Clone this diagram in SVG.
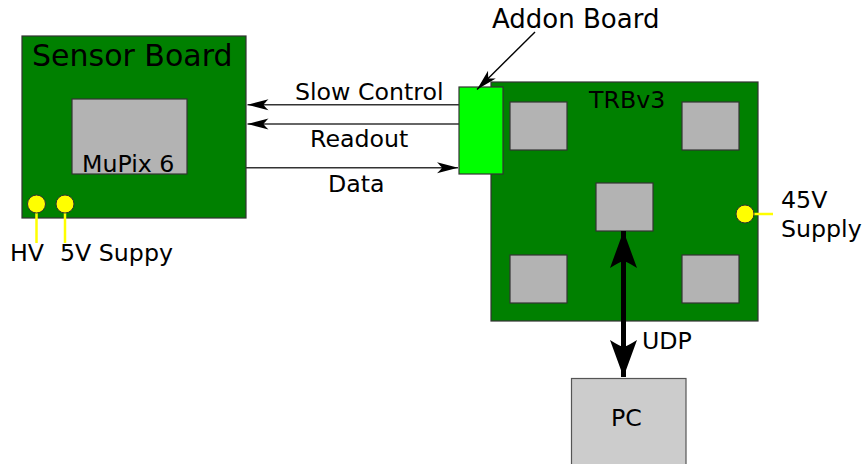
<svg xmlns="http://www.w3.org/2000/svg" width="866" height="464" viewBox="0 0 866 464">
<defs>
<style>
text{font-family:"DejaVu Sans","Liberation Sans",sans-serif;fill:#000;font-size:23.7px}
.board{fill:#008000;stroke:#333;stroke-width:1.2}
.chip{fill:#b3b3b3;stroke:#333;stroke-width:1.2}
.pin{fill:#ffff00;stroke:#333;stroke-width:1}
.lead{stroke:#ffff00;stroke-width:2.5;fill:none}
.sig{stroke:#333;stroke-width:1.6;fill:none}
</style>
<marker id="ah" markerUnits="userSpaceOnUse" viewBox="-22 -7 23 14" refX="0" refY="0" markerWidth="23" markerHeight="14" orient="auto-start-reverse">
<path d="M0,0 L-21,-5.5 Q-17,-1.5 -16,0 Q-17,1.5 -21,5.5 Z" fill="#000"/>
</marker>
<marker id="ahBig" markerUnits="userSpaceOnUse" viewBox="-38 -15 39 30" refX="0" refY="0" markerWidth="39" markerHeight="30" orient="auto-start-reverse">
<path d="M0,0 L-37,-13.5 Q-31,-4 -30,0 Q-31,4 -37,13.5 Z" fill="#000"/>
</marker>
</defs>
<rect width="866" height="464" fill="#fff"/>

<g id="sensor-board">
<rect class="board" x="22" y="36" width="224" height="182"/>
<text x="32" y="66" style="font-size:30px">Sensor Board</text>
</g>
<g id="mupix">
<rect class="chip" x="72" y="99" width="115" height="75"/>
<text x="82" y="172">MuPix 6</text>
</g>
<g id="hv">
<line class="lead" x1="36.5" y1="210" x2="36.5" y2="243"/>
<circle class="pin" cx="36.5" cy="204" r="9"/>
<text x="10" y="261">HV</text>
</g>
<g id="supply5v">
<line class="lead" x1="65" y1="210" x2="65" y2="243"/>
<circle class="pin" cx="65" cy="204" r="9"/>
<text x="60" y="261">5V Suppy</text>
</g>

<g id="trbv3">
<rect class="board" x="491" y="82" width="267" height="239"/>
<text x="589" y="108">TRBv3</text>
<rect class="chip" x="510" y="102" width="57" height="48"/>
<rect class="chip" x="682" y="102" width="57" height="48"/>
<rect class="chip" x="596" y="183" width="57" height="48"/>
<rect class="chip" x="510" y="255" width="57" height="48"/>
<rect class="chip" x="682" y="255" width="57" height="48"/>
</g>
<g id="supply45v">
<line class="lead" x1="752" y1="214" x2="773" y2="214"/>
<circle class="pin" cx="745" cy="214" r="9"/>
<text x="781" y="208">45V</text>
<text x="781" y="237">Supply</text>
</g>
<g id="addon-board">
<rect x="459" y="87" width="44" height="87" fill="#00ff00" stroke="#333" stroke-width="1.2"/>
<text x="492" y="28" style="font-size:26px">Addon Board</text>
</g>
<g id="pc">
<rect x="571.5" y="378.5" width="114.5" height="90" fill="#cccccc" stroke="#555" stroke-width="1.2"/>
<text x="611" y="426">PC</text>
</g>

<g id="connectors">
<line class="sig" x1="459" y1="104.7" x2="247.5" y2="104.7" marker-end="url(#ah)"/>
<line class="sig" x1="459" y1="124" x2="247.5" y2="124" marker-end="url(#ah)"/>
<line class="sig" x1="246" y1="167.7" x2="458" y2="167.7" marker-end="url(#ah)"/>
<line x1="535" y1="32" x2="477" y2="89.5" stroke="#000" stroke-width="1.4" marker-end="url(#ah)"/>
<line x1="623.5" y1="231" x2="623.5" y2="377" stroke="#000" stroke-width="5" marker-start="url(#ahBig)" marker-end="url(#ahBig)"/>
<text x="310" y="147">Readout</text>
<text x="295" y="100">Slow Control</text>
<text x="328" y="192">Data</text>
<text x="642" y="349">UDP</text>
</g>
</svg>
